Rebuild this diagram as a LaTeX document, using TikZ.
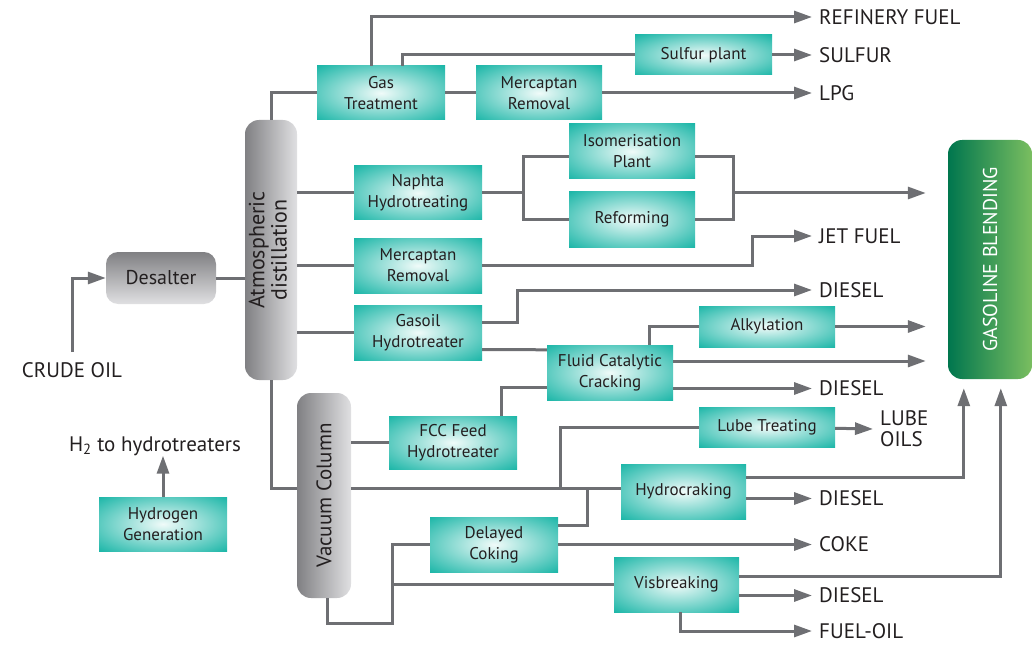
\documentclass[tikz,border=0pt]{standalone}
\usepackage{fontspec}
\setmainfont{PT Sans}
\usepackage{graphicx}
\usetikzlibrary{arrows.meta}
\definecolor{tealbox}{RGB}{0,173,157}
\definecolor{tealglow}{RGB}{240,251,249}
\definecolor{pipe}{RGB}{110,111,115}
\definecolor{ink}{RGB}{35,31,32}
\definecolor{greydark}{RGB}{128,128,131}
\definecolor{greylight}{RGB}{224,224,226}
\definecolor{greendark}{RGB}{0,118,78}
\definecolor{greenlight}{RGB}{122,190,96}
\pgfdeclareradialshading{glow}{\pgfpoint{0bp}{0bp}}{color(0bp)=(tealglow); color(40bp)=(tealbox); color(50bp)=(tealbox)}

\begin{document}
\begin{tikzpicture}[x=1pt, y=-1pt,
  unit/.style={rectangle, shade, shading=glow, minimum width=128pt, minimum height=55pt, inner sep=0pt, align=center, text=ink, font=\fontsize{17}{21}\selectfont},
  column/.style={rectangle, rounded corners=14pt, left color=greydark, right color=greylight, inner sep=0pt, text=ink, font=\fontsize{22}{22}\selectfont},
  product/.style={anchor=west, inner xsep=7pt, inner ysep=0pt, align=left, text=ink, font=\fontsize{21}{21}\selectfont},
  line/.style={draw=pipe, line width=3pt},
  flow/.style={line, -{Triangle[length=18pt, width=12pt]}}]
\useasboundingbox (0,0) rectangle (1033,647);
% Columns and desalter
\node[column, minimum width=52pt, minimum height=260pt] (atm) at (271,250) {\rotatebox{90}{\begin{tabular}{@{}c@{}}Atmospheric\\distillation\end{tabular}}};
\node[column, minimum width=54pt, minimum height=205pt, font=\fontsize{21}{21}\selectfont] (vac) at (324,495.5) {\rotatebox{90}{Vacuum Column}};
\node[rectangle, rounded corners=12pt, top color=greydark, bottom color=greylight, minimum width=110pt, minimum height=52pt, text=ink, font=\fontsize{20}{20}\selectfont] (desalter) at (161,278) {Desalter};
\node[rectangle, rounded corners=14pt, left color=greendark, right color=greenlight, minimum width=84pt, minimum height=239pt, text=white, font=\fontsize{20}{20}\selectfont] (blend) at (990,259.5) {\rotatebox{90}{GASOLINE BLENDING}};
% Process units
\node[unit, minimum height=54pt] (gas) at (381,93) {Gas\\Treatment};
\node[unit, minimum width=126pt, minimum height=54pt] (merc1) at (539,93) {Mercaptan\\Removal};
\node[unit, minimum width=137pt, minimum height=40pt] (sulfur) at (703.5,55) {Sulfur plant};
\node[unit, minimum height=54pt] (naphta) at (418,193) {Naphta\\Hydrotreating};
\node[unit, minimum width=126pt] (iso) at (632,151.5) {Isomerisation\\Plant};
\node[unit, minimum width=126pt] (reform) at (632,219.5) {Reforming};
\node[unit] (merc2) at (418,265.5) {Mercaptan\\Removal};
\node[unit] (gasoil) at (418,332.5) {Gasoil\\Hydrotreater};
\node[unit, minimum width=126pt] (fcc) at (610,372.5) {Fluid Catalytic\\Cracking};
\node[unit, minimum width=136pt, minimum height=41pt] (alky) at (767,326.5) {Alkylation};
\node[unit, minimum height=53pt] (feed) at (453,442.5) {FCC Feed\\Hydrotreater};
\node[unit, minimum width=136pt, minimum height=40pt] (lube) at (767,427) {Lube Treating};
\node[unit, minimum width=125pt] (hydro) at (683.5,491.5) {Hydrocraking};
\node[unit] (coking) at (494,544.5) {Delayed\\Coking};
\node[unit, minimum width=125pt] (visb) at (676.5,584.5) {Visbreaking};
\node[unit, minimum height=54pt] (hgen) at (163,524) {Hydrogen\\Generation};
% Products
\node[product] (refinery) at (812,17) {REFINERY FUEL};
\node[product] (sulfurout) at (812,55) {SULFUR};
\node[product] (lpg) at (812,93) {LPG};
\node[product] (jet) at (812,236) {JET FUEL};
\node[product] (dieselA) at (812,290) {DIESEL};
\node[product] (dieselB) at (812,388.5) {DIESEL};
\node[product] (lubeout) at (873,429) {LUBE\\OILS};
\node[product] (dieselC) at (812,498.5) {DIESEL};
\node[product] (coke) at (812,544.5) {COKE};
\node[product] (dieselD) at (812,595.5) {DIESEL};
\node[product] (fueloil) at (812,631) {FUEL-OIL};
\node[product, anchor=center] (crude) at (72,370) {CRUDE OIL};
\node[product, anchor=center] (h2) at (155,446) {H\textsubscript{2} to hydrotreaters};
% Crude and desalter
\draw[flow] ([yshift=10pt]crude.north) |- (desalter.west);
\draw[line] (desalter.east) -- (desalter.east -| atm.west);
\draw[flow] (hgen.north) -- (hgen.north |- h2.south);
% Gas side
\draw[line] (atm.north) |- (gas.west);
\draw[line] (gas) -- (merc1);
\draw[flow] (merc1) -- (lpg.west);
\draw[flow] ([xshift=-10pt]gas.north) |- (refinery.west);
\draw[line] ([xshift=21pt]gas.north) |- (sulfur.west);
\draw[flow] (sulfur) -- (sulfurout.west);
% Naphta
\coordinate (split) at (523,193);
\coordinate (join) at (733,193);
\draw[line] (atm.east |- naphta) -- (naphta);
\draw[line] (naphta.east) -- (split);
\draw[line] ([yshift=-5pt]iso.west) -| (split) |- (reform.west);
\draw[line] ([yshift=-5pt]iso.east) -| (join) |- (reform.east);
\draw[flow, shorten >=22pt] (join) -- (join -| blend.west);
% Kerosene
\draw[line] (atm.east |- merc2) -- (merc2);
\draw[flow] (merc2.east) -| ([xshift=-60pt]jet.west) -- (jet.west);
% Gasoil
\draw[line] (atm.east |- gasoil) -- (gasoil);
\draw[flow] ([yshift=10pt]gasoil.east) -| ([xshift=-295pt]dieselA.west) -- (dieselA.west);
\draw[line] ([yshift=-17pt]gasoil.east) -- ([yshift=-5pt]fcc.north west);
% FCC
\coordinate (fccgas) at ([yshift=11.5pt]fcc.east);
\draw[line] ([xshift=39pt]fcc.north) |- (alky.west);
\draw[flow, shorten >=22pt] (alky) -- (alky -| blend.west);
\draw[flow, shorten >=22pt] (fccgas) -- (fccgas -| blend.west);
\draw[flow] ([yshift=-16pt]fcc.east) -- (dieselB.west);
\draw[line] ([xshift=48pt]feed.north) |- ([yshift=-15pt]fcc.west);
% Vacuum column
\coordinate (vacin) at ([yshift=3.5pt]hydro.west);
\coordinate (vacbot) at (392,623);
\draw[line] (atm.south) |- (vac.west |- vacin);
\draw[line] (vac.east |- feed) -- (feed);
\draw[line] (vac.east |- vacin) -- (vacin);
\draw[line] (lube.west) -| ([xshift=-60pt]vacin);
\draw[flow] (lube) -- (lubeout.west);
\draw[line] ([yshift=19pt]coking.east) -| ([xshift=-33pt]vacin);
\draw[flow] (coking) -- (coke.west);
\draw[line] ([xshift=3pt]vac.south) |- (vacbot) |- (coking.west);
\draw[line] (vacbot |- visb.west) -- (visb.west);
% Residue upgrading
\draw[flow, shorten >=9pt] ([yshift=14pt]hydro.east) -| ([xshift=16pt]blend.south west);
\draw[flow] ([yshift=-7pt]hydro.east) -- (dieselC.west);
\draw[flow, shorten >=9pt] ([yshift=8pt]visb.east) -| ([xshift=53pt]blend.south west);
\draw[flow] ([yshift=-11pt]visb.east) -- (dieselD.west);
\draw[flow] ([xshift=4pt]visb.south) |- (fueloil.west);
\end{tikzpicture}
\end{document}
